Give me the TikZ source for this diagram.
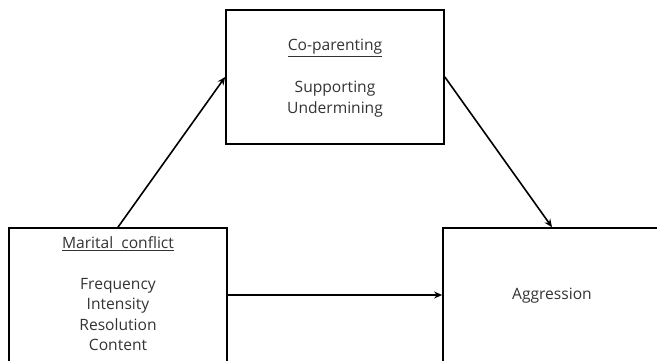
\documentclass[tikz,border=0pt]{standalone}
\usepackage{fontspec}
\setmainfont{Open Sans}
\usetikzlibrary{arrows.meta}
\begin{document}
\begin{tikzpicture}[x=1pt,y=-1pt,
  box/.style={draw=black,line width=1.7pt,minimum width=218pt,inner sep=0pt},
  txt/.style={align=center,text=black!80,font=\fontsize{15.6}{20.5}\selectfont,inner sep=0pt},
  arr/.style={line width=1.6pt,-{Stealth[length=8pt,width=7pt]}}]
\useasboundingbox (0,0) rectangle (657,361);
\begin{scope}
\clip (0,0) rectangle (657,361);
\node[box,minimum height=160pt] (lb) at (118,308) {};
\node[box,minimum height=134pt] (tb) at (335,77) {};
\node[box,minimum height=160pt] (rb) at (552,308) {};
\end{scope}
\node[txt] (lbt) at (118,244) {\underline{Marital\ \ conflict}};
\node[txt,anchor=north] (lbl) at (118,278) {Frequency\\Intensity\\Resolution\\Content};
\node[txt] (tbt) at (335,48) {\underline{Co-parenting}};
\node[txt,anchor=north] (tbl) at (335,81) {Supporting\\Undermining};
\node[txt] (rbt) at (552,296) {Aggression};
\draw[arr] (lb.north) -- (tb.west);
\draw[arr] (tb.east) -- (rb.north);
\draw[arr] (lb.east |- 0,295) -- (rb.west |- 0,295);
\end{tikzpicture}
\end{document}
